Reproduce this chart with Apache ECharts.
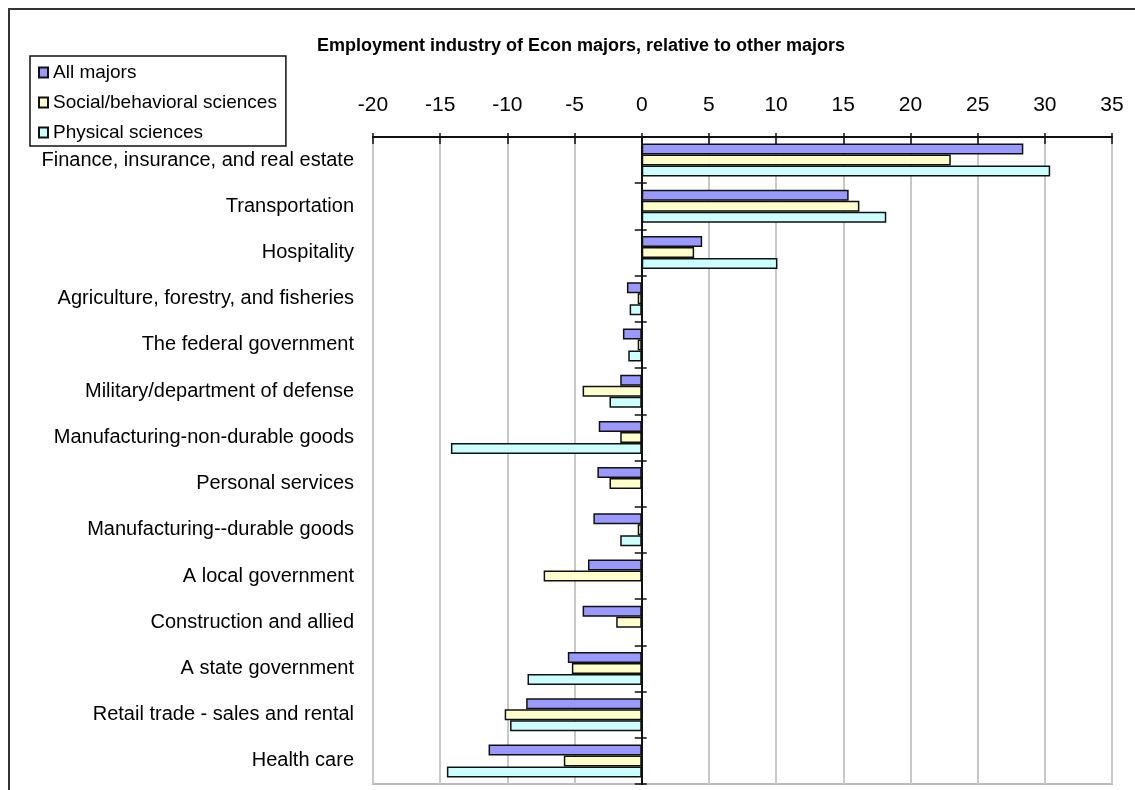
<!DOCTYPE html>
<html>
<head>
<meta charset="utf-8">
<script src="https://cdn.jsdelivr.net/npm/echarts@6/dist/echarts.min.js"></script>
<style>
  html, body { margin: 0; padding: 0; background: #fff; }
  #frame { position: absolute; left: 8px; top: 8px; width: 1200px; height: 800px;
           border-left: 2px solid #333; border-top: 2px solid #333; }
  #main { position: absolute; left: 0; top: 0; width: 1135px; height: 790px; }
</style>
</head>
<body>
<div id="frame"></div>
<div id="main"></div>
<script>
// industries, top to bottom
var industries = [
  'Finance, insurance, and real estate',
  'Transportation',
  'Hospitality',
  'Agriculture, forestry, and fisheries',
  'The federal government',
  'Military/department of defense',
  'Manufacturing-non-durable goods',
  'Personal services',
  'Manufacturing--durable goods',
  'A local government',
  'Construction and allied',
  'A state government',
  'Retail trade - sales and rental',
  'Health care'
];
var allMajors = [28.4, 15.4, 4.5, -1.1, -1.4, -1.6, -3.2, -3.3, -3.6, -4.0, -4.4, -5.5, -8.6, -11.4];
var socialSci = [23.0, 16.2, 3.9, -0.3, -0.3, -4.4, -1.6, -2.4, -0.3, -7.3, -1.9, -5.2, -10.2, -5.8];
var physicalSci = [30.4, 18.2, 10.1, -0.9, -1.0, -2.4, -14.2, 0, -1.6, 0, 0, -8.5, -9.8, -14.5];

var chartDom = document.getElementById('main');
var myChart = echarts.init(chartDom);
var option;

var sans = "'Liberation Sans', Arial, sans-serif";

function barSeries(name, data, color) {
  return {
    name: name,
    type: 'bar',
    xAxisIndex: 0,
    yAxisIndex: 0,
    data: data,
    barWidth: 11,
    barGap: '0%',
    itemStyle: { color: color, borderColor: '#111', borderWidth: 1.5 }
  };
}

// extra axis used only to draw the zero line with crossing ticks
function zeroAxis(inside) {
  return {
    type: 'category',
    data: industries,
    inverse: true,
    position: 'left',
    axisLine: { show: true, onZero: true, onZeroAxisIndex: 0, lineStyle: { color: '#111', width: 2 } },
    axisTick: { show: true, inside: inside, length: inside ? 5 : 7, lineStyle: { color: '#111', width: 1.5 } },
    axisLabel: { show: false }
  };
}

option = {
  animation: false,
  title: {
    text: 'Employment industry of Econ majors, relative to other majors',
    left: 576,
    textAlign: 'center',
    top: 32,
    textStyle: { fontFamily: sans, fontSize: 18, fontWeight: 'bold', color: '#000' }
  },
  legend: {
    orient: 'vertical',
    left: 30,
    top: 56,
    padding: [7, 9, 4, 8],
    itemWidth: 9,
    itemHeight: 10,
    itemGap: 11,
    icon: 'rect',
    borderColor: '#111',
    borderWidth: 1.5,
    textStyle: { fontFamily: sans, fontSize: 19, color: '#000' },
    data: ['All majors', 'Social/behavioral sciences', 'Physical sciences']
  },
  grid: {
    left: 373,
    right: 23,
    top: 137,
    bottom: 6,
    show: true,
    borderColor: '#bbb',
    borderWidth: 2,
    outerBoundsMode: 'none'
  },
  xAxis: [
    {
      type: 'value',
      position: 'top',
      min: -20,
      max: 35,
      interval: 5,
      axisLine: { show: true, lineStyle: { color: '#111', width: 2 } },
      axisTick: { show: true, inside: true, length: 7, lineStyle: { color: '#111', width: 1.5 } },
      axisLabel: { fontFamily: sans, fontSize: 21, color: '#000', margin: 21 },
      splitLine: { show: true, lineStyle: { color: '#c8c8c8', width: 2 } }
    },
    {
      type: 'value',
      position: 'top',
      min: -20,
      max: 35,
      interval: 5,
      axisLine: { show: false },
      axisTick: { show: true, length: 4, lineStyle: { color: '#111', width: 1.5 } },
      axisLabel: { show: false },
      splitLine: { show: false }
    }
  ],
  yAxis: [
    {
      type: 'category',
      data: industries,
      inverse: true,
      position: 'left',
      axisLine: { show: false, onZero: false },
      axisTick: { show: false },
      axisLabel: { fontFamily: sans, fontSize: 20, color: '#000', margin: 19 }
    },
    zeroAxis(false),
    zeroAxis(true)
  ],
  series: [
    barSeries('All majors', allMajors, '#9999ff'),
    barSeries('Social/behavioral sciences', socialSci, '#ffffcc'),
    barSeries('Physical sciences', physicalSci, '#ccffff')
  ]
};

option && myChart.setOption(option);
</script>
</body>
</html>
